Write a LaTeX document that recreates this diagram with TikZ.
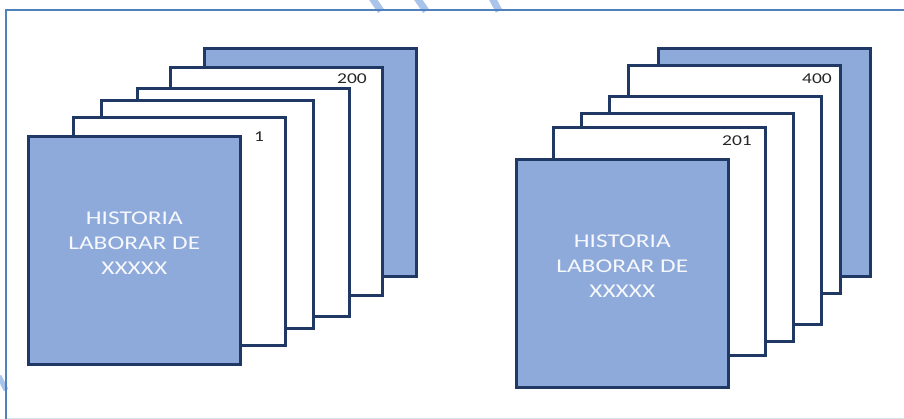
\documentclass[tikz,border=0pt]{standalone}
\usepackage{fontspec}
\setmainfont{Carlito}
\newfontfamily\pagefont[FakeStretch=1.3]{Carlito}
\usetikzlibrary{positioning}
\definecolor{hlblue}{HTML}{8EAADB}
\definecolor{hldark}{HTML}{1F3864}
\definecolor{hlframe}{HTML}{4F81BD}
\definecolor{hlstripe}{HTML}{A9C4EB}

\begin{document}
\begin{tikzpicture}[x=1pt,y=-1pt]
\tikzset{
 sheet/.style={draw=hldark,line width=2.6pt,fill=white,minimum width=212pt,minimum height=228pt,anchor=north west,inner sep=0pt},
 cover/.style={sheet,fill=hlblue},
 title/.style={text=white!92!hlblue,align=center,inner sep=0pt,font=\pagefont\fontsize{19.5}{25}\selectfont},
 num/.style={text=black!85,inner sep=0pt,font=\pagefont\fontsize{15}{16}\selectfont}
}
\useasboundingbox (0,0) rectangle (904,419);
% background stripes and frame
\draw[hlstripe,line width=7pt] (372,-2)--(381,11) (417,-2)--(426,11) (492,-2)--(499,11);
\draw[hlstripe,line width=5pt] (-1,376)--(6,390);
\draw[hlframe!25,line width=1pt] (6,418)--(904,418);
\draw[hlframe,line width=2.4pt] (904,10)--(6,10)--(6,419);

% first stack: pages 1 to 200
\node[cover] (back1) at (203,47) {};
\node[sheet] (p200) at (169,66) {};
\node[sheet] (p3) at (136,87) {};
\node[sheet] (p2) at (100,99) {};
\node[sheet] (p1) at (72,116) {};
\node[cover] (front1) at (27,135) {};
\node[title] (t1) at ([yshift=7pt]front1.center) {HISTORIA\\LABORAR DE\\XXXXX};
\node[num] (n1) at (259,137) {1};
\node[num] (n200) at (352,79) {200};

% second stack: pages 201 to 400
\node[cover] (back2) at (657,47) {};
\node[sheet] (p400) at (627,64) {};
\node[sheet] (q3) at (608,95) {};
\node[sheet] (q2) at (580,112) {};
\node[sheet] (p201) at (552,126) {};
\node[cover] (front2) at (515,158) {};
\node[title] (t2) at ([yshift=7pt]front2.center) {HISTORIA\\LABORAR DE\\XXXXX};
\node[num] (n201) at (737,141) {201};
\node[num] (n400) at (817,79) {400};
\end{tikzpicture}
\end{document}
